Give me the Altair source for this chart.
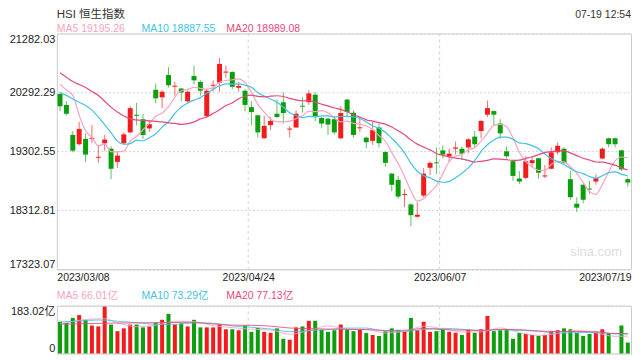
import altair as alt
import numpy as np
import pandas as pd

# ---------------- data ----------------
title_text = "HSI 恒生指数"
time_text = "07-19 12:54"
date_labels = ["2023/03/08", "2023/04/24", "2023/06/07", "2023/07/19"]
date_positions = [-0.5, 29.5, 59.5, 89.5]
grid_x = [29.5, 59.5]
price_ticks = [17323.07, 18312.81, 19302.55, 20292.29, 21282.03]
volume_ticks = [0, 183.02]
ma_names = ["MA5", "MA10", "MA20"]
ma_last_price = [19195.26, 18887.55, 18989.08]
ma_last_volume = [66.01, 73.29, 77.13]

opens = [20264, 20082, 19578, 19422, 19512, 19513, 19195, 19439, 19347, 19126,
         19439, 19621, 19918, 19842, 19687, 20337, 20210, 20584, 20388, 20358,
         20143, 20568, 20469, 19896, 20404, 20457, 20625, 20634, 20370, 20320,
         20045, 19908, 19522, 19743, 19934, 20127, 19668, 19703, 20069, 20127,
         20254, 19863, 19852, 19842, 19522, 20172, 19951, 19690, 19533, 19479,
         19703, 19291, 18928, 18824, 18568, 18411, 18205, 18560, 19027, 19117,
         19319, 19220, 19347, 19347, 19368, 19550, 19644, 19918, 19979, 19769,
         19302, 19137, 18845, 18857, 19104, 19187, 18881, 19010, 19286, 19347,
         18835, 18423, 18741, 18678, 18796, 19182, 19522, 19522, 19319, 18835]
highs = [20292, 20143, 19644, 19797, 19604, 19743, 19413, 19578, 19385, 19302,
         19621, 20061, 20116, 19934, 19825, 20441, 20330, 20721, 20469, 20358,
         20320, 20743, 20495, 20347, 20495, 20870, 20743, 20650, 20474, 20347,
         20143, 19918, 19896, 19880, 20172, 20292, 19726, 19990, 20210, 20330,
         20292, 19880, 19863, 19880, 20061, 20182, 19990, 19880, 19550, 19797,
         19769, 19302, 18944, 18890, 18670, 18428, 18449, 19022, 19137, 19368,
         19401, 19347, 19467, 19385, 19522, 19644, 19825, 20155, 19990, 19842,
         19385, 19145, 18972, 19220, 19220, 19192, 19071, 19368, 19451, 19368,
         18972, 18532, 18763, 18807, 18918, 19368, 19533, 19533, 19330, 18862]
lows = [19978, 19904, 19286, 19401, 19126, 19439, 19109, 19314, 18835, 19027,
        19418, 19604, 19743, 19512, 19632, 20111, 20028, 20375, 20238, 20143,
        20099, 20429, 20238, 19863, 20304, 20304, 20540, 20347, 20304, 19974,
        19743, 19533, 19517, 19660, 19863, 19769, 19538, 19698, 19951, 20082,
        19809, 19698, 19578, 19588, 19505, 19896, 19533, 19621, 19357, 19413,
        19368, 19038, 18631, 18505, 18367, 18048, 18188, 18527, 18906, 18923,
        19182, 19126, 19248, 19165, 19274, 19368, 19522, 19880, 19731, 19512,
        19182, 18807, 18753, 18835, 19038, 18840, 18852, 19000, 19248, 19083,
        18489, 18284, 18433, 18588, 18741, 19170, 19368, 19368, 18972, 18708]
closes = [20061, 19934, 19314, 19677, 19248, 19530, 19211, 19500, 19010, 19231,
          19588, 20028, 19901, 19578, 19759, 20193, 20304, 20413, 20404, 20292,
          20304, 20495, 20320, 20320, 20421, 20771, 20642, 20386, 20403, 20082,
          19962, 19621, 19731, 19814, 19880, 19946, 19685, 19934, 20053, 20276,
          19896, 19769, 19753, 19621, 19946, 19962, 19578, 19706, 19456, 19660,
          19439, 19109, 18741, 18543, 18584, 18230, 18238, 18928, 19109, 19101,
          19248, 19264, 19368, 19264, 19505, 19422, 19814, 20028, 19918, 19604,
          19220, 18890, 18796, 19137, 19154, 18944, 18898, 19286, 19396, 19109,
          18532, 18357, 18489, 18662, 18852, 19347, 19422, 19422, 19000, 18779]
volumes = [121.4, 116.7, 135.9, 146.8, 128.7, 106.9, 103.3, 179.4, 110.5, 85.2,
           96.0, 110.5, 110.5, 99.7, 103.3, 117.8, 128.7, 151.5, 110.5, 115.3,
           103.3, 128.7, 99.7, 99.7, 99.7, 110.5, 92.4, 92.4, 88.8, 106.9,
           82.6, 97.2, 82.6, 79.0, 96.0, 56.2, 52.5, 99.7, 103.3, 125.0,
           125.0, 91.3, 82.6, 88.8, 110.5, 92.4, 85.2, 91.3, 77.9, 70.7,
           67.0, 85.2, 96.0, 88.8, 85.2, 135.9, 88.8, 121.4, 82.6, 85.2,
           92.4, 82.6, 79.0, 70.7, 91.3, 79.0, 92.4, 143.2, 85.2, 88.8,
           92.4, 56.2, 77.9, 74.3, 70.7, 67.0, 70.7, 85.2, 88.8, 96.0,
           92.4, 77.9, 67.0, 74.3, 82.6, 92.4, 77.9, 0.0, 107.0, 41.7]

ma5 = [20432, 20333, 20242, 19912, 19647, 19538, 19393, 19429, 19297, 19294,
       19307, 19472, 19551, 19665, 19771, 19891, 19947, 20049, 20213, 20320,
       20342, 20379, 20361, 20346, 20370, 20464, 20492, 20505, 20521, 20455,
       20294, 20091, 19960, 19842, 19802, 19799, 19809, 19850, 19899, 19979,
       19969, 19987, 19950, 19863, 19797, 19810, 19772, 19761, 19728, 19670,
       19566, 19472, 19281, 19099, 18881, 18640, 18467, 18505, 18617, 18725,
       18927, 19132, 19220, 19251, 19330, 19365, 19475, 19607, 19738, 19757,
       19716, 19531, 19286, 19129, 19040, 18984, 18984, 19083, 19134, 19125,
       19043, 18936, 18776, 18630, 18579, 18743, 18956, 19142, 19208, 19195]
ma10 = [20292, 20242, 20181, 20127, 20073, 19995, 19880, 19748, 19616, 19470,
        19422, 19432, 19490, 19480, 19531, 19599, 19710, 19800, 19939, 20045,
        20115, 20163, 20205, 20279, 20345, 20403, 20436, 20432, 20434, 20412,
        20378, 20290, 20233, 20181, 20129, 20046, 19949, 19904, 19870, 19889,
        19883, 19898, 19899, 19881, 19888, 19889, 19880, 19855, 19795, 19733,
        19688, 19622, 19520, 19413, 19276, 19102, 18969, 18893, 18858, 18802,
        18784, 18799, 18861, 18934, 19026, 19145, 19304, 19413, 19493, 19543,
        19540, 19503, 19446, 19432, 19398, 19350, 19257, 19183, 19130, 19083,
        19013, 18959, 18929, 18881, 18852, 18893, 18946, 18959, 18919, 18888]
ma20 = [20622, 20548, 20474, 20424, 20375, 20309, 20242, 20144, 20045, 19962,
        19896, 19847, 19830, 19822, 19814, 19805, 19797, 19781, 19772, 19757,
        19769, 19797, 19847, 19880, 19937, 20000, 20073, 20115, 20186, 20228,
        20246, 20226, 20218, 20229, 20236, 20224, 20191, 20168, 20152, 20150,
        20130, 20094, 20066, 20031, 20008, 19967, 19914, 19880, 19832, 19810,
        19785, 19759, 19710, 19647, 19581, 19495, 19424, 19373, 19327, 19267,
        19236, 19210, 19190, 19173, 19150, 19124, 19135, 19152, 19175, 19172,
        19162, 19150, 19154, 19183, 19211, 19248, 19281, 19297, 19312, 19312,
        19276, 19231, 19187, 19157, 19124, 19121, 19101, 19071, 19025, 18989]

vma5_idx = [0, 2, 4, 7, 9, 12, 15, 18, 21, 24, 27, 30, 33, 36, 39, 42, 45, 48,
            51, 54, 57, 60, 63, 66, 69, 72, 75, 78, 81, 84, 87, 89]
vma5 = [113, 122, 129.9, 133, 117.1, 102.5, 108.4, 122.4, 121.9, 106.2, 98.9,
        92.6, 89.7, 73.3, 87.3, 105.4, 93.1, 91.5, 78.4, 84.4, 104, 94.1, 82,
        82.5, 97.7, 80.1, 69.2, 76.5, 88.1, 78.8, 65.4, 66.01]
vma10_idx = [0, 3, 6, 9, 12, 15, 18, 21, 24, 27, 30, 33, 36, 39, 42, 45, 48,
             51, 54, 57, 60, 63, 66, 69, 72, 75, 78, 81, 84, 87, 89]
vma10 = [120, 124, 128, 123.5, 117.8, 111.6, 111.4, 116.9, 115.5, 105.2, 100.1,
         93.2, 83.4, 87.4, 91.1, 97.1, 97, 85.2, 84, 91.7, 96.2, 92.4, 87.7,
         90.5, 87.7, 84.8, 77.2, 80.1, 80.2, 74.9, 73.29]
vma20_idx = [0, 4, 8, 12, 16, 19, 21, 24, 27, 30, 33, 36, 39, 42, 45, 48, 51,
             54, 57, 60, 63, 66, 69, 72, 75, 78, 81, 84, 87, 89]
vma20 = [112, 114, 116, 117, 118, 118.9, 118.6, 113, 108.3, 107.6, 104.5, 97.3,
         94.8, 93.2, 92.3, 91.3, 88.2, 88.8, 95.6, 91, 89.5, 88.2, 92.1, 91,
         86.1, 83.7, 84, 83.1, 75.9, 77.13]

# ---------------- style ----------------
FONT = "Liberation Sans, Arial, Noto Sans CJK SC, sans-serif"
RED = "#f21c1c"
GREEN = "#0c9e0c"
MA_COLORS = ["#f7a3c0", "#3fc3e3", "#e9487d"]
LABEL = "#222222"
GRID = "#d2d2d2"

W, H_MAIN, H_VOL = 576, 236.5, 48

n = len(opens)
df = pd.DataFrame({"i": range(n), "open": opens, "high": highs, "low": lows,
                   "close": closes, "vol": volumes})
df["dir"] = np.where(df["close"] >= df["open"], "up", "down")

ma_df = pd.concat([pd.DataFrame({"i": range(n), "value": v, "series": s})
                   for s, v in zip(ma_names, [ma5, ma10, ma20])])
vma_df = pd.concat([pd.DataFrame({"i": ix, "value": v, "series": s})
                    for s, ix, v in zip(ma_names, [vma5_idx, vma10_idx, vma20_idx],
                                        [vma5, vma10, vma20])])

x_expr = f"'{date_labels[-1]}'"
for p, d in reversed(list(zip(date_positions[:-1], date_labels[:-1]))):
    x_expr = f"datum.value < {p + 1} ? '{d}' : ({x_expr})"

xscale = alt.Scale(domain=[date_positions[0], date_positions[-1]], nice=False,
                   zero=False, padding=0)
yscale = alt.Scale(domain=[price_ticks[0], price_ticks[-1]], nice=False,
                   zero=False, padding=0)
vscale = alt.Scale(domain=[volume_ticks[0], volume_ticks[-1]], nice=False,
                   zero=False, padding=0)

dir_color = alt.Color("dir:N", scale=alt.Scale(domain=["up", "down"], range=[RED, GREEN]),
                      legend=None)
ma_stroke = alt.Stroke("series:N", scale=alt.Scale(domain=ma_names, range=MA_COLORS),
                       legend=None)

x_axis = alt.Axis(values=date_positions, labelExpr=x_expr, labelFlush=True, grid=False,
                  ticks=False, domain=False, labelPadding=3, labelFontSize=10.5,
                  labelColor=LABEL, labelFont=FONT, title=None)
y_axis = alt.Axis(values=price_ticks, format=".2f", labelFlush=True, grid=True,
                  gridDash=[2, 2], gridColor=GRID, ticks=False, domain=False,
                  labelPadding=2, labelFontSize=11, labelColor=LABEL, labelFont=FONT,
                  title=None)
vy_axis = alt.Axis(values=volume_ticks,
                   labelExpr="datum.value == 0 ? '0' : format(datum.value, '.2f') + '亿'",
                   labelFlush=True, grid=True, gridDash=[2, 2], gridColor=GRID,
                   ticks=False, domain=False, labelPadding=2, labelFontSize=11,
                   labelColor=LABEL, labelFont=FONT, title=None)

X = alt.X("i:Q", scale=xscale, axis=x_axis)
VX = alt.X("i:Q", scale=xscale, axis=None)


def txt(s, x, y, color, size=10.5, align="left"):
    return alt.Chart(pd.DataFrame({"t": [s]})).mark_text(
        align=align, baseline="middle", fontSize=size, font=FONT, color=color
    ).encode(x=alt.value(x), y=alt.value(y), text="t:N")


base = alt.Chart(df)

vgrid = alt.Chart(pd.DataFrame({"i": grid_x})).mark_rule(
    strokeDash=[3, 3], color=GRID, strokeWidth=1).encode(x=X)
wick = base.mark_rule(strokeWidth=1, opacity=0.65).encode(
    x=X, y=alt.Y("low:Q", scale=yscale, axis=y_axis), y2="high:Q", color=dir_color)
body = base.mark_bar(size=5).encode(
    x=X, y=alt.Y("open:Q", scale=yscale, axis=y_axis), y2="close:Q", color=dir_color)
lines = alt.Chart(ma_df).mark_line(strokeWidth=1.2, interpolate="monotone").encode(
    x=X, y=alt.Y("value:Q", scale=yscale, axis=y_axis), stroke=ma_stroke)

main_texts = [
    txt(title_text, 0, -18.5, "#333333", size=11.5),
    txt(time_text, W, -18.5, "#333333", size=10.5, align="right"),
    txt("sina.com", W - 9, 219, "#dddddd", size=13, align="right"),
]
leg_x = [0, 85, 170]
for name, val, col, lx in zip(ma_names, ma_last_price, MA_COLORS, leg_x):
    main_texts.append(txt(f"{name} {val:.2f}", lx, -4, col))

main = alt.layer(vgrid, wick, body, lines, *main_texts).properties(width=W, height=H_MAIN)

vgrid2 = alt.Chart(pd.DataFrame({"i": grid_x})).mark_rule(
    strokeDash=[3, 3], color=GRID, strokeWidth=1).encode(x=VX)
vbars = base.mark_bar(size=4).encode(
    x=VX, y=alt.Y("vol:Q", scale=vscale, axis=vy_axis), color=dir_color)
vlines = alt.Chart(vma_df).mark_line(strokeWidth=1, interpolate="monotone", opacity=0.85).encode(
    x=VX, y=alt.Y("value:Q", scale=vscale, axis=vy_axis), stroke=ma_stroke)
vol_texts = []
for name, val, col, lx in zip(ma_names, ma_last_volume, MA_COLORS, leg_x):
    vol_texts.append(txt(f"{name} {val:.2f}亿", lx, -10, col))

vol = alt.layer(vgrid2, vbars, vlines, *vol_texts).properties(width=W, height=H_VOL)

chart = (
    alt.vconcat(main, vol, spacing=6)
    .properties(padding={"left": 0, "top": 0, "right": 0, "bottom": 0}, background="white")
    .configure_view(stroke="#cccccc", strokeWidth=1)
)

chart.save("out.html", embed_options={"renderer": "svg", "actions": False})
